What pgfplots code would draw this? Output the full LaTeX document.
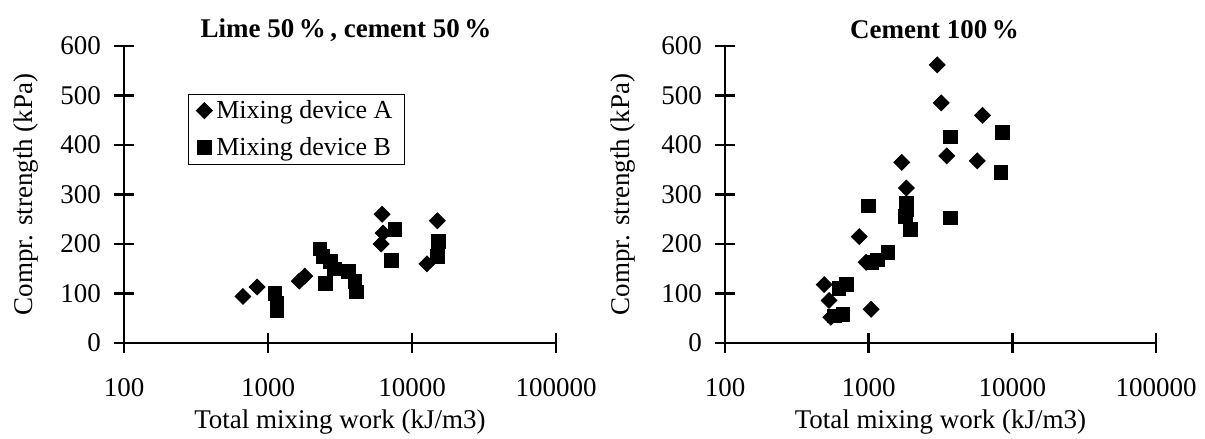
\documentclass[border=0pt]{standalone}
\usepackage{fontspec}
\setmainfont{Liberation Serif}
\usepackage{pgfplots}
\pgfplotsset{compat=1.18}

% left panel: lime 50 % / cement 50 %
\pgfplotstableread{
x y
670 94
840 113
1650 125
1800 135
6200 260
6300 222
6100 200
15000 247
12700 160
}\limeA
\pgfplotstableread{
x y
1120 100
1150 80
1150 65
2300 190
2400 175
2700 165
2900 150
2500 120
3600 145
4000 125
4100 103
7600 230
7200 167
15300 205
15000 175
}\limeB
% right panel: cement 100 %
\pgfplotstableread{
x y
490 118
530 86
545 52
860 215
960 163
1040 68
1700 365
1830 313
3000 562
3200 485
3500 378
5700 368
6200 460
}\cemA
\pgfplotstableread{
x y
580 55
660 58
620 110
700 118
1000 277
1050 163
1150 168
1360 183
1800 256
1830 270
1830 283
1950 230
3700 416
3700 253
8500 425
8300 345
}\cemB

\newcommand\txt{\fontsize{13.5}{16}\selectfont}

\begin{document}
\begin{tikzpicture}
\begin{axis}[
  scale only axis, width=216pt, height=148.5pt,
  at={(0pt,0pt)}, anchor=south west,
  xmode=log, xmin=100, xmax=100000,
  ymin=0, ymax=600,
  axis x line=bottom, axis y line=left,
  axis line style={-, line width=1.2pt},
  every tick/.style={black, line width=1.2pt},
  tick align=center, major tick length=10pt,
  xminorticks=false,
  xtick={100,1000,10000,100000},
  xticklabels={100,1000,10000,100000},
  ytick={0,100,...,600},
  /pgf/number format/assume math mode=true,
  tick label style={font=\txt},
  xticklabel style={yshift=-9pt},
  yticklabel style={xshift=-3pt},
  label style={font=\txt},
  ylabel style={at={(axis description cs:-0.227,0.5)}, anchor=center},
  title style={font=\txt\bfseries, at={(axis description cs:0.5,1)},
    anchor=center, yshift=2pt, xshift=3pt},
  xlabel={Total mixing work (kJ/m3)},
  ylabel={Compr. strength (kPa)},
  clip=false,
  title={Lime 50\,\%\,, cement 50\,\%},
  legend style={at={(0.148,0.84)}, anchor=north west, draw=black,
    line width=0.5pt, font=\fontsize{13}{16}\selectfont,
    cells={anchor=west}, row sep=4pt, inner xsep=4pt, inner ysep=1pt}]
  \addplot[only marks, mark=square*, mark size=2.8pt,
    mark options={rotate=45, fill=black, draw=black}] table {\limeA};
  \addplot[only marks, mark=square*, mark size=3.4pt,
    mark options={fill=black, draw=black}] table {\limeB};
  \legend{Mixing device A, Mixing device B}
\end{axis}
\begin{axis}[
  scale only axis, width=215.5pt, height=148.5pt,
  at={(300.5pt,0pt)}, anchor=south west,
  xmode=log, xmin=100, xmax=100000,
  ymin=0, ymax=600,
  axis x line=bottom, axis y line=left,
  axis line style={-, line width=1.2pt},
  every tick/.style={black, line width=1.2pt},
  tick align=center, major tick length=10pt,
  xminorticks=false,
  xtick={100,1000,10000,100000},
  xticklabels={100,1000,10000,100000},
  ytick={0,100,...,600},
  /pgf/number format/assume math mode=true,
  tick label style={font=\txt},
  xticklabel style={yshift=-9pt},
  yticklabel style={xshift=-3pt},
  label style={font=\txt},
  ylabel style={at={(axis description cs:-0.237,0.5)}, anchor=center},
  title style={font=\txt\bfseries, at={(axis description cs:0.5,1)},
    anchor=center, yshift=2pt, xshift=-3pt},
  xlabel={Total mixing work (kJ/m3)},
  ylabel={Compr. strength (kPa)},
  clip=false,
  title={Cement 100\,\%}]
  \addplot[only marks, mark=square*, mark size=2.8pt,
    mark options={rotate=45, fill=black, draw=black}] table {\cemA};
  \addplot[only marks, mark=square*, mark size=3.4pt,
    mark options={fill=black, draw=black}] table {\cemB};
\end{axis}
\pgfresetboundingbox
\path (-62pt,-48pt) rectangle (540.5pt,171.5pt);
\end{tikzpicture}
\end{document}
